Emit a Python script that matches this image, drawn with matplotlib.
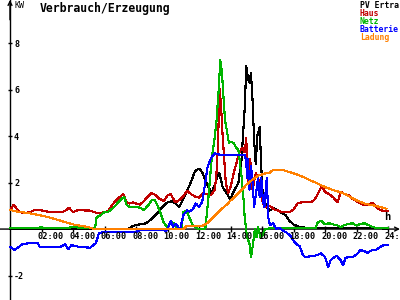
import matplotlib
matplotlib.use("Agg")
import matplotlib.pyplot as plt
from matplotlib.transforms import offset_copy

# values (hour, kW)
pv_ertrag = [(0.0, 0.0), (7.5, 0.0), (7.75, 0.12), (8.0, 0.18), (8.25, 0.2), (8.5, 0.22), (8.75, 0.3),
             (9.0, 0.45), (9.25, 0.62), (9.5, 0.8), (9.75, 1.0), (10.0, 1.15), (10.25, 1.2), (10.5, 1.1),
             (10.75, 0.95), (11.0, 1.3), (11.25, 1.65), (11.5, 2.05), (11.75, 2.5), (12.0, 2.6),
             (12.2, 2.45), (12.4, 2.1), (12.6, 1.8), (12.8, 1.55), (13.0, 1.9), (13.15, 2.25),
             (13.3, 2.4), (13.5, 1.8), (13.75, 1.55), (14.0, 1.25), (14.15, 1.55), (14.35, 1.8),
             (14.5, 2.0), (14.7, 3.0), (14.8, 4.1), (14.9, 5.2), (15.0, 7.0), (15.1, 6.5), (15.2, 6.3),
             (15.3, 6.7), (15.4, 5.5), (15.5, 3.8), (15.6, 2.8), (15.7, 4.0), (15.85, 4.4), (15.95, 2.7),
             (16.05, 1.4), (16.3, 0.95), (16.5, 0.8), (16.75, 0.9), (17.0, 0.8), (17.25, 0.7),
             (17.5, 0.6), (17.75, 0.35), (18.0, 0.2), (18.25, 0.12), (18.5, 0.08), (19.0, 0.04),
             (23.5, 0.04), (24.0, 0.0)]

haus = [(0.0, 0.82), (0.25, 1.05), (0.5, 0.8), (0.75, 0.7), (1.0, 0.7), (1.25, 0.72), (1.5, 0.8),
        (1.75, 0.82), (2.0, 0.8), (2.25, 0.78), (2.5, 0.72), (2.75, 0.72), (3.0, 0.75), (3.25, 0.72),
        (3.5, 0.78), (3.75, 0.92), (4.0, 0.72), (4.25, 0.8), (4.5, 0.82), (4.75, 0.8), (5.0, 0.8),
        (5.25, 0.75), (5.5, 0.7), (5.75, 0.7), (6.0, 0.72), (6.25, 0.8), (6.5, 1.05), (6.75, 1.25),
        (7.0, 1.4), (7.2, 1.5), (7.4, 1.15), (7.6, 1.1), (7.8, 1.15), (8.0, 1.1), (8.25, 1.05),
        (8.5, 1.2), (8.75, 1.4), (9.0, 1.55), (9.25, 1.45), (9.5, 1.3), (9.75, 1.2), (10.0, 1.45),
        (10.2, 1.5), (10.5, 1.15), (10.75, 1.25), (11.0, 1.4), (11.25, 1.65), (11.5, 1.5),
        (11.75, 1.4), (12.0, 1.35), (12.25, 1.55), (12.5, 1.5), (12.75, 1.45), (13.0, 1.7),
        (13.1, 2.3), (13.2, 3.5), (13.3, 6.05), (13.4, 5.3), (13.5, 4.0), (13.6, 3.0), (13.7, 2.0),
        (13.85, 1.55), (14.0, 1.8), (14.2, 2.4), (14.4, 2.9), (14.55, 3.3), (14.75, 3.5), (14.9, 3.3),
        (15.0, 3.9), (15.1, 2.0), (15.25, 3.0), (15.4, 1.7), (15.6, 2.4), (15.85, 2.0), (16.05, 1.1),
        (16.25, 0.95), (16.5, 1.0), (16.75, 0.85), (17.0, 0.8), (17.25, 0.72), (17.5, 0.72),
        (17.75, 0.72), (18.0, 0.85), (18.25, 1.1), (18.5, 1.15), (18.75, 1.15), (19.0, 1.15),
        (19.25, 1.2), (19.5, 1.45), (19.8, 1.85), (20.0, 1.6), (20.25, 1.5), (20.5, 1.38),
        (20.8, 1.15), (21.0, 1.6), (21.25, 1.5), (21.5, 1.45), (21.75, 1.3), (22.0, 1.2),
        (22.25, 1.1), (22.5, 1.03), (22.75, 1.05), (23.0, 1.12), (23.25, 0.95), (23.5, 0.82),
        (23.75, 0.77), (24.0, 0.77)]

netz = [(0.0, 0.06), (0.5, 0.04), (1.0, 0.06), (1.5, 0.05), (2.0, 0.07), (2.5, 0.04), (3.0, 0.06),
        (3.5, 0.05), (4.0, 0.08), (4.5, 0.06), (5.0, 0.05), (5.4, 0.04), (5.5, 0.5), (5.75, 0.6),
        (6.0, 0.73), (6.25, 0.75), (6.5, 0.88), (6.75, 1.05), (7.0, 1.25), (7.25, 1.38), (7.4, 1.05),
        (7.6, 0.95), (7.9, 0.95), (8.25, 0.92), (8.5, 0.82), (8.75, 1.0), (9.0, 1.25), (9.2, 1.25),
        (9.35, 1.03), (9.55, 0.69), (9.75, 0.3), (10.0, 0.04), (10.2, 0.32), (10.4, 0.25),
        (10.6, 0.03), (10.9, 0.03), (11.0, 0.73), (11.2, 0.8), (11.35, 0.55), (11.6, 0.17),
        (11.9, 0.02), (12.4, 0.02), (12.6, 1.38), (12.8, 3.0), (12.95, 3.7), (13.1, 4.55),
        (13.25, 6.0), (13.35, 7.27), (13.45, 6.8), (13.55, 5.7), (13.65, 4.7), (13.8, 4.1),
        (13.9, 3.7), (14.0, 3.75), (14.2, 3.7), (14.35, 3.5), (14.5, 3.4), (14.6, 2.85), (14.7, 2.25),
        (14.8, 1.55), (14.9, 0.5), (15.05, -0.35), (15.2, -0.6), (15.3, -1.2), (15.4, -0.77),
        (15.55, 0.0), (15.65, -0.35), (15.75, 0.1), (15.9, -0.35), (16.05, -0.25), (16.2, 0.0),
        (16.5, 0.03), (17.0, 0.05), (18.0, 0.04), (19.0, 0.05), (19.4, 0.05), (19.55, 0.3),
        (19.75, 0.35), (20.0, 0.2), (20.25, 0.25), (20.5, 0.2), (20.75, 0.17), (21.0, 0.08),
        (21.25, 0.18), (21.5, 0.22), (21.75, 0.25), (22.0, 0.15), (22.25, 0.22), (22.5, 0.25),
        (22.75, 0.17), (23.0, 0.1), (23.25, 0.04), (24.0, 0.04)]

batterie = [(0.0, -0.77), (0.3, -0.9), (0.55, -0.77), (0.8, -0.65), (1.25, -0.6), (1.75, -0.6),
            (1.9, -0.77), (2.5, -0.77), (3.2, -0.77), (3.5, -0.65), (3.7, -0.86), (3.9, -0.69),
            (4.4, -0.77), (5.1, -0.8), (5.45, -0.6), (5.65, -0.17), (6.0, -0.13), (7.0, -0.13),
            (8.0, -0.13), (8.25, -0.04), (9.0, -0.02), (9.75, -0.02), (9.85, -0.1), (10.0, 0.0),
            (10.2, 0.35), (10.35, 0.1), (10.5, 0.22), (10.8, 0.0), (11.0, 0.6), (11.25, 0.8),
            (11.4, 0.75), (11.6, 0.85), (11.8, 1.1), (12.0, 0.95), (12.2, 1.16), (12.4, 2.0),
            (12.55, 2.7), (12.8, 3.1), (13.0, 3.25), (13.3, 3.2), (14.9, 3.2), (15.0, 2.9),
            (15.05, 2.2), (15.1, 3.0), (15.2, 1.7), (15.3, 2.7), (15.4, 2.0), (15.5, 0.95),
            (15.65, 1.7), (15.75, 2.2), (15.85, 1.38), (15.95, 2.2), (16.05, 1.25), (16.15, 0.95),
            (16.3, 2.2), (16.4, 0.5), (16.5, 0.17), (16.7, 0.26), (16.9, 0.0), (17.1, 0.05),
            (17.3, -0.05), (17.6, -0.17), (17.8, -0.3), (18.0, -0.5), (18.2, -0.65), (18.4, -0.75),
            (18.6, -1.12), (18.75, -1.2), (19.0, -1.18), (19.25, -1.16), (19.5, -1.12), (19.75, -1.05),
            (20.0, -1.2), (20.2, -1.63), (20.35, -1.35), (20.5, -1.25), (20.75, -1.15), (21.0, -1.35),
            (21.15, -1.55), (21.3, -1.25), (21.5, -1.2), (21.75, -1.2), (22.0, -1.1), (22.25, -0.9),
            (22.5, -0.95), (22.7, -1.02), (23.0, -0.9), (23.25, -0.88), (23.5, -0.77), (23.75, -0.68),
            (24.0, -0.68)]

ladung = [(0.0, 0.82), (0.5, 0.75), (1.0, 0.7), (1.5, 0.65), (2.0, 0.58), (2.5, 0.5), (3.0, 0.4),
          (3.5, 0.3), (4.0, 0.2), (4.5, 0.14), (5.0, 0.08), (5.25, 0.02), (5.5, 0.0), (11.0, 0.0),
          (11.2, 0.12), (12.0, 0.13), (12.25, 0.15), (12.5, 0.25), (12.75, 0.4), (13.0, 0.58),
          (13.25, 0.75), (13.5, 0.9), (13.75, 1.05), (14.0, 1.22), (14.25, 1.38), (14.5, 1.55),
          (14.75, 1.72), (15.0, 1.9), (15.25, 2.05), (15.5, 2.18), (15.75, 2.3), (16.0, 2.35),
          (16.25, 2.4), (16.5, 2.42), (16.7, 2.55), (17.0, 2.55), (17.3, 2.55), (17.6, 2.48),
          (18.0, 2.4), (18.4, 2.3), (18.75, 2.2), (19.05, 2.1), (19.4, 2.0), (19.7, 1.9),
          (20.1, 1.78), (20.5, 1.68), (20.9, 1.6), (21.3, 1.5), (21.6, 1.38), (21.9, 1.27),
          (22.2, 1.18), (22.5, 1.1), (22.8, 1.05), (23.2, 1.0), (23.5, 0.95), (23.9, 0.87)]

series_names = ["PV Ertra", "Haus", "Netz", "Batterie", "Ladung"]
series_colors = ["#000000", "#c00000", "#00b400", "#0000ff", "#ff8000"]
x_ticks = [2, 4, 6, 8, 10, 12, 14, 16, 18, 20, 22, 24]
x_labels = ["%02d:00" % h for h in x_ticks]
y_ticks = [-2, 2, 4, 6, 8]

mono = "DejaVu Sans Mono"

fig = plt.figure(figsize=(4, 3), dpi=100)
ax = fig.add_axes([0, 0, 1, 1])
ax.set_xlim(-0.635, 24.76)
ax.set_ylim(-3.05, 9.85)

for data, name, color in zip([pv_ertrag, haus, netz, batterie, ladung], series_names, series_colors):
    t, v = zip(*data)
    ax.plot(t, v, color=color, lw=0.8, antialiased=False, zorder=3)

for side in ["top", "right"]:
    ax.spines[side].set_visible(False)
ax.spines["left"].set_position(("data", 0))
ax.spines["bottom"].set_position(("data", 0))
ax.spines["bottom"].set_visible(False)
ax.spines["left"].set_linewidth(1.0)

# axis arrows
ax.annotate("", xy=(24.76, 0), xytext=(-0.635, 0),
            arrowprops=dict(arrowstyle="->", lw=1.0, color="black", shrinkA=0, shrinkB=0,
                            mutation_scale=7), zorder=2)
ax.annotate("", xy=(0, 9.85), xytext=(0, 9.0),
            arrowprops=dict(arrowstyle="->", lw=1.0, color="black", shrinkA=0, shrinkB=0,
                            mutation_scale=7))

ax.set_xticks(x_ticks)
ax.set_xticklabels([])
ax.tick_params(axis="x", direction="inout", length=4, width=1)
ax.set_yticks(y_ticks)
ax.set_yticklabels([str(v) for v in y_ticks], fontsize=6, fontweight="bold", family=mono)
ax.tick_params(axis="y", direction="inout", length=3, width=1, pad=-4.4)
for lbl in ax.get_yticklabels():
    lbl.set_horizontalalignment("left")

lab_tr = offset_copy(ax.transData, fig=fig, x=-4, y=-3, units="dots")
for h, s in zip(x_ticks, x_labels):
    ax.text(h, 0, s, transform=lab_tr, ha="left", va="top", fontsize=6.2,
            fontweight="bold", family=mono)

fig.text(40 / 400, 1 - 2 / 300, "Verbrauch/Erzeugung", ha="left", va="top",
         fontsize=8.3, fontweight="bold", family=mono)
fig.text(14 / 400, 1 - 1 / 300, "KW", ha="left", va="top", fontsize=6, family=mono)
fig.text(387 / 400, 1 - 217 / 300, "h", ha="center", va="center", fontsize=7.5,
         fontweight="bold", family=mono)

for i, (name, color) in enumerate(zip(series_names, series_colors)):
    fig.text(360 / 400, 1 - (1 + 8 * i) / 300, name, color=color, ha="left", va="top",
             fontsize=5.9, fontweight="bold", family=mono)

fig.savefig("out.png", dpi=100)
